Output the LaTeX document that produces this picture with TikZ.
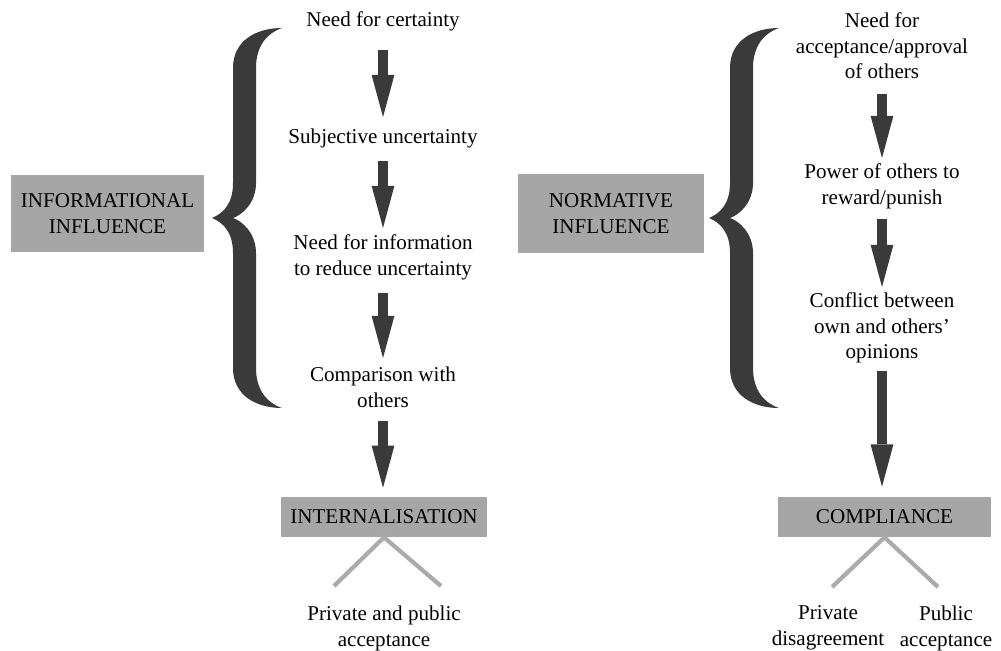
\documentclass[tikz,border=0pt]{standalone}
\usepackage{fontspec}
\setmainfont{Liberation Serif}
\usetikzlibrary{arrows.meta}

\definecolor{inkdark}{HTML}{3A3A3A}
\definecolor{boxgrey}{HTML}{A6A6A6}
\definecolor{linegrey}{HTML}{ABABAB}

\begin{document}
\begin{tikzpicture}[x=0.02cm,y=-0.02cm,
  txt/.style={font=\fontsize{12}{14.5}\selectfont, align=center, inner sep=0pt, anchor=north},
  labelbox/.style={fill=boxgrey, font=\fontsize{12}{14.8}\selectfont, align=center, inner sep=0pt},
  fatarrow/.style={draw=inkdark, line width=5.7pt,
    -{Triangle[width=13pt,length=24pt,line width=0pt]}},
  branch/.style={draw=linegrey, line width=2.4pt, line join=miter},
  curlybrace/.pic={
    \fill[inkdark] (0,0) .. controls (12,-5) and (21,-15) .. (21,-35)
      -- (21,-150)
      .. controls (21,-178) and (45,-190) .. (70,-190)
      .. controls (55,-185) and (44,-172) .. (44,-150)
      -- (44,-35)
      .. controls (44,-15) and (30,-3) .. (21,0)
      .. controls (30,3) and (44,15) .. (44,35)
      -- (44,150)
      .. controls (44,172) and (55,185) .. (70,190)
      .. controls (45,190) and (21,178) .. (21,150)
      -- (21,35)
      .. controls (21,15) and (12,5) .. (0,0) -- cycle;
  },
]
\useasboundingbox (0,0) rectangle (1001,650);

% ---------- informational influence ----------
\node[labelbox, minimum width=3.86cm, minimum height=1.54cm] (info) at (107.5,213.5)
  {INFORMATIONAL\\INFLUENCE};
\pic at (212,218) {curlybrace};

\node[txt] (l1) at (383,11.6) {Need for certainty};
\node[txt] (l2) at (383,128.6) {Subjective uncertainty};
\node[txt] (l3) at (383,234.6) {Need for information\\to reduce uncertainty};
\node[txt] (l4) at (383,366.6) {Comparison with\\others};
\node[labelbox, minimum width=4.12cm, minimum height=0.8cm] (intern) at (384,517)
  {INTERNALISATION};
\node[txt] (l5) at (384,605.6) {Private and public\\acceptance};

\draw[fatarrow, shorten <=10.5pt, shorten >=6.6pt] (l1.south) -- (l1.south |- l2.north);
\draw[fatarrow, shorten <=7.1pt, shorten >=3.8pt] (l2.south) -- (l2.south |- l3.north);
\draw[fatarrow, shorten <=7.1pt, shorten >=4.9pt] (l3.south) -- (l3.south |- l4.north);
\draw[fatarrow, shorten <=7.4pt, shorten >=5.1pt] (l4.south) -- (l4.south |- intern.north);

\coordinate (ileft) at (334,586);
\coordinate (iright) at (441,586);
\draw[branch] (ileft) -- (intern.south) -- (iright);

% ---------- normative influence ----------
\node[labelbox, minimum width=3.72cm, minimum height=1.58cm] (norm) at (611,213.5)
  {NORMATIVE\\INFLUENCE};
\pic at (709,218) {curlybrace};

\node[txt] (r1) at (882,12.6) {Need for\\acceptance/approval\\of others};
\node[txt] (r2) at (882,163.6) {Power of others to\\reward/punish};
\node[txt] (r3) at (882,292.6) {Conflict between\\own and others'\\opinions};
\node[labelbox, minimum width=4.26cm, minimum height=0.8cm] (compl) at (884.5,517)
  {COMPLIANCE};
\node[txt] (r4) at (828,605.6) {Private\\disagreement};
\node[txt] (r5) at (946,605.6) {Public\\acceptance};

\draw[fatarrow, shorten <=8.5pt, shorten >=3.2pt] (r1.south) -- (r1.south |- r2.north);
\draw[fatarrow, shorten <=5.9pt, shorten >=3.2pt] (r2.south) -- (r2.south |- r3.north);
\draw[fatarrow, shorten <=4.2pt, shorten >=5.7pt] (r3.south) -- (r3.south |- compl.north);

\coordinate (cleft) at (832,587);
\coordinate (cright) at (938,587);
\draw[branch] (cleft) -- (compl.south) -- (cright);
\end{tikzpicture}
\end{document}
